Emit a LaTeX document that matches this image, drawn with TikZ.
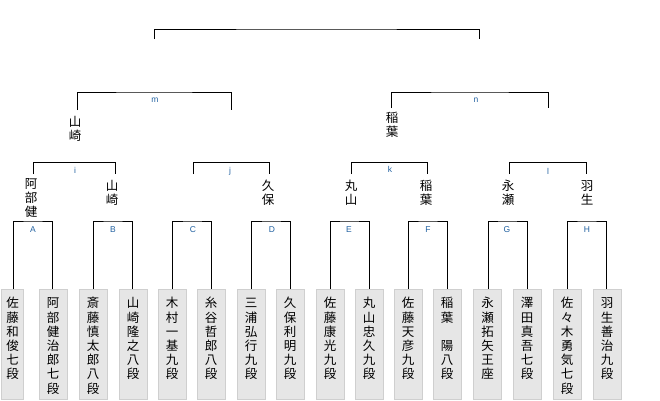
\documentclass[tikz,border=0pt]{standalone}
\usepackage{fontspec}
\setmainfont{Liberation Sans}
\newfontfamily\jp{Noto Sans CJK JP}
\definecolor{lbl}{HTML}{2060A0}
\definecolor{boxfill}{HTML}{E6E6E6}
\definecolor{boxline}{HTML}{CFCFCF}
\tikzset{
  bline/.style={line width=0.9pt, draw=black},
  pbox/.style={draw=boxline, fill=boxfill, line width=0.8pt, minimum width=28pt, minimum height=110pt, inner sep=0pt},
  vtext/.style={anchor=north, inner sep=0pt, align=center, font=\jp\fontsize{12.5}{14.2}\selectfont},
  wname/.style={anchor=north, inner sep=0pt, align=center, font=\jp\fontsize{12.5}{13.8}\selectfont},
  lab/.style={anchor=base, inner sep=0pt, text=lbl, font=\fontsize{8.5}{10}\selectfont},
}
\newcommand\rs{\rule{0pt}{11pt}}
\begin{document}
\begin{tikzpicture}[x=1pt,y=-1pt]
\useasboundingbox (0,0) rectangle (660,400);
% player boxes
\node[pbox, minimum width=22pt] (p1) at (12.5,344) {};
\node[pbox] (p2) at (53,344) {};
\node[pbox] (p3) at (93,344) {};
\node[pbox] (p4) at (133,344) {};
\node[pbox] (p5) at (172,344) {};
\node[pbox] (p6) at (211,344) {};
\node[pbox] (p7) at (251,344) {};
\node[pbox] (p8) at (290,344) {};
\node[pbox] (p9) at (330,344) {};
\node[pbox] (p10) at (369,344) {};
\node[pbox] (p11) at (408,344) {};
\node[pbox] (p12) at (447,344) {};
\node[pbox] (p13) at (487.5,344) {};
\node[pbox] (p14) at (527,344) {};
\node[pbox] (p15) at (567,344) {};
\node[pbox] (p16) at (607,344) {};
% player texts
\node[vtext] (t1) at (12.5,296.75) {\rs 佐\\藤\\和\\俊\\七\\段};
\node[vtext] (t2) at (53,296.75) {\rs 阿\\部\\健\\治\\郎\\七\\段};
\node[vtext] (t3) at (93,296.75) {\rs 斎\\藤\\慎\\太\\郎\\八\\段};
\node[vtext] (t4) at (133,296.75) {\rs 山\\崎\\隆\\之\\八\\段};
\node[vtext] (t5) at (172,296.75) {\rs 木\\村\\一\\基\\九\\段};
\node[vtext] (t6) at (211,296.75) {\rs 糸\\谷\\哲\\郎\\八\\段};
\node[vtext] (t7) at (251,296.75) {\rs 三\\浦\\弘\\行\\九\\段};
\node[vtext] (t8) at (290,296.75) {\rs 久\\保\\利\\明\\九\\段};
\node[vtext] (t9) at (330,296.75) {\rs 佐\\藤\\康\\光\\九\\段};
\node[vtext] (t10) at (369,296.75) {\rs 丸\\山\\忠\\久\\九\\段};
\node[vtext] (t11) at (408,296.75) {\rs 佐\\藤\\天\\彦\\九\\段};
\node[vtext] (t12) at (447,296.75) {\rs 稲\\葉\\　\\陽\\八\\段};
\node[vtext] (t13) at (487.5,296.75) {\rs 永\\瀬\\拓\\矢\\王\\座};
\node[vtext] (t14) at (527,296.75) {\rs 澤\\田\\真\\吾\\七\\段};
\node[vtext] (t15) at (567,296.75) {\rs 佐\\々\\木\\勇\\気\\七\\段};
\node[vtext] (t16) at (607,296.75) {\rs 羽\\生\\善\\治\\九\\段};
% first-round brackets
\coordinate (cA) at (33,221);
\coordinate (cB) at (113,221);
\coordinate (cC) at (193,221);
\coordinate (cD) at (272,221);
\coordinate (cE) at (349,221);
\coordinate (cF) at (428,221);
\coordinate (cG) at (507,221);
\coordinate (cH) at (587,221);
\draw[bline] (p1.north -| 13,0) |- (cA) -| (p2.north -| 52,0);
\draw[bline] (p3.north) |- (cB) -| (p4.north -| 132,0);
\draw[bline] (p5.north) |- (cC) -| (p6.north);
\draw[bline] (p7.north) |- (cD) -| (p8.north);
\draw[bline] (p9.north) |- (cE) -| (p10.north);
\draw[bline] (p11.north) |- (cF) -| (p12.north);
\draw[bline] (p13.north -| 488,0) |- (cG) -| (p14.north);
\draw[bline] (p15.north) |- (cH) -| (p16.north -| 606,0);
\node[lab] (lA) at (33,232) {A};
\node[lab] (lB) at (113,232) {B};
\node[lab] (lC) at (193,232) {C};
\node[lab] (lD) at (272,232) {D};
\node[lab] (lE) at (349,232) {E};
\node[lab] (lF) at (428,232) {F};
\node[lab] (lG) at (507,232) {G};
\node[lab] (lH) at (587,232) {H};
% first-round winners
\node[wname] (wA) at (31,177.75) {\rs 阿\\部\\健};
\node[wname] (wB) at (112,179.75) {\rs 山\\崎};
\node[wname] (wD) at (268,179.75) {\rs 久\\保};
\node[wname] (wE) at (351,179.75) {\rs 丸\\山};
\node[wname] (wF) at (426,179.75) {\rs 稲\\葉};
\node[wname] (wG) at (508,179.75) {\rs 永\\瀬};
\node[wname] (wH) at (587,179.75) {\rs 羽\\生};
% second-round brackets
\coordinate (iL) at (33,174);  \coordinate (iT) at (74,162.5);  \coordinate (iR) at (115,174);
\coordinate (jL) at (193,174); \coordinate (jT) at (231,162.5); \coordinate (jR) at (269,174);
\coordinate (kL) at (351,174); \coordinate (kT) at (389,162.5); \coordinate (kR) at (427,174);
\coordinate (lL) at (509,174); \coordinate (lT) at (548,162.5); \coordinate (lR) at (586,174);
\draw[bline] (iL) |- (iT) -| (iR);
\draw[bline] (jL) |- (jT) -| (jR);
\draw[bline] (kL) |- (kT) -| (kR);
\draw[bline] (lL) |- (lT) -| (lR);
\node[lab] (li) at (75,173) {i};
\node[lab] (lj) at (230,173) {j};
\node[lab] (lk) at (390,172) {k};
\node[lab] (ll) at (548,174) {l};
% semi-final winners
\node[wname] (wM) at (75,115.75) {\rs 山\\崎};
\node[wname] (wN) at (392,111.25) {\rs 稲\\葉};
% semi-final brackets
\coordinate (mL) at (77,110); \coordinate (mT) at (154,92); \coordinate (mR) at (231,110);
\coordinate (nL) at (391.5,108); \coordinate (nT) at (470,92); \coordinate (nR) at (548,108);
\draw[bline] (mL) |- (mT) -| (mR);
\draw[bline] (nL) |- (nT) -| (nR);
\node[lab] (lm) at (155,102) {m};
\node[lab] (ln) at (476,102.5) {n};
% final bracket
\coordinate (fL) at (154,39); \coordinate (fT) at (316,29); \coordinate (fR) at (479,39);
\draw[bline] (fL) |- (fT) -| (fR);
\end{tikzpicture}
\end{document}
